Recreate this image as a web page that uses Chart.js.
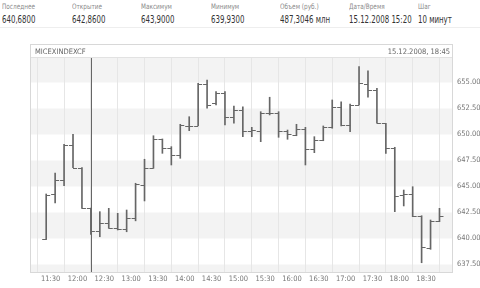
<!DOCTYPE html>
<html>
<head>
<meta charset="utf-8">
<script src="https://cdn.jsdelivr.net/npm/chart.js@4/dist/chart.umd.min.js"></script>
<style>
body { margin: 0; width: 480px; height: 288px; background: #fff; overflow: hidden; position: relative;
       font-family: "DejaVu Sans Condensed", "DejaVu Sans", sans-serif; }
.hd { position: absolute; top: 2px; font-size: 7.5px; color: #8a8a8a; white-space: nowrap;
      transform: scaleX(0.85); transform-origin: left top; }
.vl { position: absolute; top: 14px; font-size: 10px; color: #333; white-space: nowrap;
      transform: scaleX(0.78); transform-origin: left top; }
#sep { position: absolute; left: 0; top: 27px; width: 480px; height: 1px; background: #eee; }
#wrap { position: absolute; left: 0; top: 40px; width: 480px; height: 248px; }
#frame { position: absolute; left: 30px; top: 44px; width: 421px; height: 227px; border: 1px solid #d8d8d8; pointer-events: none; }
#titleline { position: absolute; left: 31px; top: 57px; width: 421px; height: 1px; background: #e2e2e2; }
.ttl { position: absolute; top: 47px; font-size: 7.5px; color: #666; white-space: nowrap; }
</style>
</head>
<body>
<div id="head"></div>
<div id="sep"></div>
<div id="wrap"><canvas id="ohlcChart" width="480" height="248"></canvas></div>
<div id="titleline"></div>
<div id="frame"></div>
<div class="ttl" style="left:35px">MICEXINDEXCF</div>
<div class="ttl" style="right:30px">15.12.2008, 18:45</div>
<script>
// шапка с итогами
var headerLabels = ['Последнее', 'Открытие', 'Максимум', 'Минимум', 'Объем (руб.)', 'Дата/Время', 'Шаг'];
var headerValues = ['640,6800', '642,8600', '643,9000', '639,9300', '487,3046 млн', '15.12.2008 15:20', '10 минут'];

// 10-минутные бары
var barTimes = ['11:20', '11:30', '11:40', '11:50', '12:00', '12:10', '12:20', '12:30', '12:40', '12:50',
                '13:00', '13:10', '13:20', '13:30', '13:40', '13:50', '14:00', '14:10', '14:20', '14:30',
                '14:40', '14:50', '15:00', '15:10', '15:20', '15:30', '15:40', '15:50', '16:00', '16:10',
                '16:20', '16:30', '16:40', '16:50', '17:00', '17:10', '17:20', '17:30', '17:40', '17:50',
                '18:00', '18:10', '18:20', '18:30', '18:40'];
var openPrices = [639.95, 644.28, 645.63, 648.99, 646.81, 642.90, 640.72, 641.46, 640.98, 640.88,
                  641.94, 645.14, 646.81, 649.54, 648.73, 648.03, 650.85, 650.85, 654.86, 653.00,
                  654.02, 651.71, 652.36, 650.37, 650.37, 652.10, 652.04, 650.37, 649.98, 650.53,
                  648.58, 649.47, 650.69, 652.67, 650.91, 652.84, 654.83, 654.28, 651.08, 648.67,
                  644.18, 644.28, 642.16, 639.06, 641.68];
var highPrices = [644.28, 646.30, 649.06, 650.02, 646.81, 642.93, 642.58, 642.90, 642.42, 642.74,
                  645.31, 647.62, 649.88, 649.57, 648.83, 650.98, 651.71, 654.92, 655.24, 654.12,
                  654.12, 652.74, 652.67, 650.69, 652.19, 653.58, 652.19, 650.43, 650.98, 650.69,
                  649.79, 650.82, 653.32, 653.15, 652.93, 656.52, 656.13, 654.44, 651.08, 648.77,
                  644.66, 644.98, 642.19, 641.78, 642.90];
var lowPrices = [639.90, 643.41, 645.08, 646.81, 642.90, 640.40, 640.17, 640.98, 640.82, 640.65,
                 641.70, 643.61, 646.75, 648.19, 647.07, 647.71, 650.37, 650.85, 652.52, 652.84,
                 650.91, 651.08, 649.79, 649.79, 649.31, 651.88, 649.73, 649.54, 649.88, 647.07,
                 648.25, 649.40, 650.60, 650.82, 650.27, 652.84, 653.58, 651.08, 648.19, 642.58,
                 643.13, 642.10, 637.67, 638.96, 641.62];
var closePrices = [644.20, 645.63, 648.99, 646.81, 642.90, 640.72, 641.46, 640.98, 640.88, 641.94,
                   645.21, 646.81, 649.54, 648.73, 648.03, 650.91, 650.85, 654.86, 652.84, 654.02,
                   651.65, 652.36, 650.37, 650.43, 652.10, 652.04, 650.37, 650.02, 650.53, 648.58,
                   649.47, 650.75, 652.67, 650.91, 652.84, 654.92, 654.28, 651.08, 648.67, 644.09,
                   644.28, 642.16, 639.21, 641.68, 642.16];

var timeTicks = ['11:30', '12:00', '12:30', '13:00', '13:30', '14:00', '14:30', '15:00',
                 '15:30', '16:00', '16:30', '17:00', '17:30', '18:00', '18:30'];
var priceTicks = [637.5, 640, 642.5, 645, 647.5, 650, 652.5, 655];
var cursorBar = 5; // бар под курсором

function toMin(s) {
    var p = s.split(':');
    return parseInt(p[0], 10) * 60 + parseInt(p[1], 10);
}
// середина 10-минутного интервала
function barX(i) { return toMin(barTimes[i]) + 5; }

// шапка
var head = document.getElementById('head');
var colX = [2, 72, 141, 211, 280, 349, 418];
headerLabels.forEach(function(l, i) {
    var a = document.createElement('div');
    a.className = 'hd'; a.style.left = colX[i] + 'px'; a.textContent = l;
    head.appendChild(a);
    var b = document.createElement('div');
    b.className = 'vl'; b.style.left = colX[i] + 'px'; b.textContent = headerValues[i];
    head.appendChild(b);
});

// полосы фона
var bands = {
    id: 'bands',
    beforeDraw: function(chart) {
        var ctx = chart.ctx, a = chart.chartArea, ys = chart.scales.y;
        var edges = [ys.min].concat(priceTicks, [ys.max]);
        ctx.save();
        ctx.fillStyle = '#f3f3f3';
        for (var k = 0; k < edges.length - 1; k += 2) {
            var y1 = ys.getPixelForValue(edges[k]), y2 = ys.getPixelForValue(edges[k + 1]);
            ctx.fillRect(a.left, y2, a.right - a.left, y1 - y2);
        }
        ctx.restore();
    }
};

// засечки open / close и курсор
var ohlcTicks = {
    id: 'ohlcTicks',
    afterDatasetsDraw: function(chart) {
        var ctx = chart.ctx, a = chart.chartArea, xs = chart.scales.x, ys = chart.scales.y;
        ctx.save();
        ctx.strokeStyle = '#666';
        ctx.lineWidth = 1;
        ctx.beginPath();
        barTimes.forEach(function(t, i) {
            var x = xs.getPixelForValue(barX(i));
            var yo = Math.round(ys.getPixelForValue(openPrices[i])) + 0.5;
            var yc = Math.round(ys.getPixelForValue(closePrices[i])) + 0.5;
            ctx.moveTo(x - 4, yo); ctx.lineTo(x, yo);
            ctx.moveTo(x, yc); ctx.lineTo(x + 4, yc);
        });
        ctx.stroke();
        var cx = Math.round(xs.getPixelForValue(barX(cursorBar))) + 0.5;
        ctx.strokeStyle = '#666';
        ctx.beginPath();
        ctx.moveTo(cx, a.top); ctx.lineTo(cx, a.bottom);
        ctx.stroke();
        ctx.restore();
    }
};

Chart.defaults.font.family = '"DejaVu Sans Condensed", "DejaVu Sans", sans-serif';
Chart.defaults.font.size = 7.5;
Chart.defaults.color = '#777';

var ctx = document.getElementById('ohlcChart').getContext('2d');
var ohlcChart = new Chart(ctx, {
    type: 'bar',
    data: {
        datasets: [{
            data: barTimes.map(function(t, i) { return { x: barX(i), y: [lowPrices[i], highPrices[i]] }; }),
            backgroundColor: '#666',
            barThickness: 1,
            grouped: false
        }]
    },
    options: {
        responsive: false,
        animation: false,
        devicePixelRatio: 1,
        layout: { padding: { left: 31, top: 17, right: 0, bottom: 0 } },
        plugins: { legend: { display: false }, tooltip: { enabled: false } },
        scales: {
            x: {
                type: 'linear',
                min: 668,
                max: 1139,
                offset: false,
                afterBuildTicks: function(axis) {
                    axis.ticks = timeTicks.map(function(l) { return { value: toMin(l) }; });
                },
                afterFit: function(axis) { axis.height = 16; },
                ticks: {
                    autoSkip: false,
                    maxRotation: 0,
                    padding: 3,
                    callback: function(v, i) { return timeTicks[i]; }
                },
                grid: { color: '#e6e6e6', drawTicks: false },
                border: { color: '#d8d8d8' }
            },
            y: {
                position: 'right',
                min: 636.78,
                max: 657.45,
                afterBuildTicks: function(axis) {
                    axis.ticks = priceTicks.map(function(v) { return { value: v }; });
                },
                afterFit: function(axis) { axis.width = 28; },
                ticks: {
                    padding: 5,
                    callback: function(v) { return v.toFixed(2); }
                },
                grid: { display: false, drawTicks: false },
                border: { color: '#d0d0d0' }
            }
        }
    },
    plugins: [bands, ohlcTicks]
});
</script>
</body>
</html>
